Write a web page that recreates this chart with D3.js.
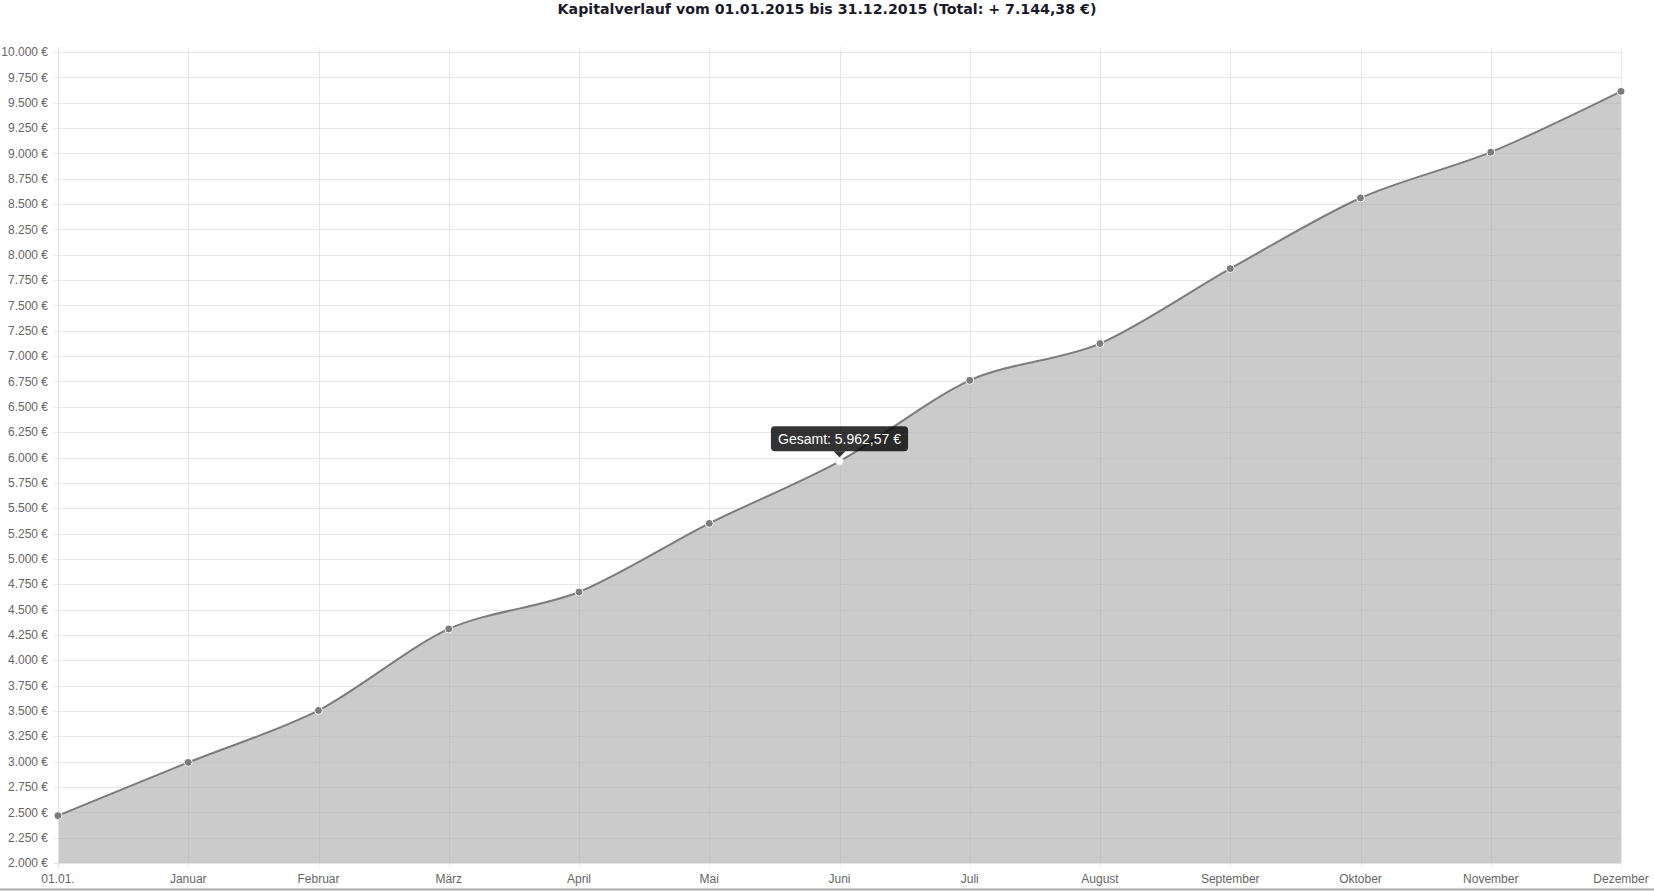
<!DOCTYPE html>
<html>
<head>
<meta charset="utf-8">
<script src="https://cdn.jsdelivr.net/npm/d3@7"></script>
<style>
    body { margin: 0; background: #fff; }
    svg { display: block; font-family: "Liberation Sans", Arial, sans-serif; }
</style>
</head>
<body>
<svg id="chart"></svg>
<script>

var labels = ["01.01.", "Januar", "Februar", "März", "April", "Mai", "Juni", "Juli", "August", "September", "Oktober", "November", "Dezember"];
var totals = [2467.22, 2992, 3505, 4309, 4673, 5350, 5962.57, 6761, 7124, 7863, 8560, 9012, 9611.60];
var yTicks = [2000, 2250, 2500, 2750, 3000, 3250, 3500, 3750, 4000, 4250, 4500, 4750, 5000, 5250, 5500, 5750, 6000, 6250, 6500, 6750, 7000, 7250, 7500, 7750, 8000, 8250, 8500, 8750, 9000, 9250, 9500, 9750, 10000];
var hoverIndex = 6;

var width = 1654;
var height = 891;
var margin = {top: 52, right: 33, bottom: 28, left: 58};

var de = d3.formatLocale({decimal: ",", thousands: ".", grouping: [3], currency: ["", " €"]});
var fmtTick = de.format(",.0f");
var fmtVal = de.format(",.2f");

var svg = d3.select("#chart").attr("width", width).attr("height", height);

var x = d3.scalePoint().domain(labels).range([margin.left, width - margin.right]);
var y = d3.scaleLinear().domain([2000, 10000]).range([height - margin.bottom, margin.top]);

// title
svg.append("text")
    .attr("x", width / 2)
    .attr("y", 14)
    .attr("text-anchor", "middle")
    .style("font-family", "'DejaVu Sans', Verdana, sans-serif")
    .style("font-weight", "bold")
    .style("font-size", "14.2px")
    .style("fill", "#1a1a2a")
    .text("Kapitalverlauf vom 01.01.2015 bis 31.12.2015 (Total: + 7.144,38 €)");

// grid
var grid = svg.append("g");
grid.selectAll("line.h")
    .data(yTicks)
    .enter().append("line")
    .attr("x1", margin.left - 5)
    .attr("x2", width - margin.right)
    .attr("y1", function (d) { return Math.round(y(d)) + 0.5; })
    .attr("y2", function (d) { return Math.round(y(d)) + 0.5; })
    .style("stroke", "#f0f0f0")
    .style("stroke-width", 1);

grid.selectAll("line.v")
    .data(labels)
    .enter().append("line")
    .attr("x1", function (d) { return Math.round(x(d)) + 0.5; })
    .attr("x2", function (d) { return Math.round(x(d)) + 0.5; })
    .attr("y1", margin.top - 5)
    .attr("y2", height - margin.bottom + 5)
    .style("stroke", "#f0f0f0")
    .style("stroke-width", 1);

// area + line
var curve = d3.curveCardinal.tension(0.1);

var area = d3.area()
    .x(function (d, i) { return x(labels[i]); })
    .y0(y(2000))
    .y1(function (d) { return y(d); })
    .curve(curve);

var line = d3.line()
    .x(function (d, i) { return x(labels[i]); })
    .y(function (d) { return y(d); })
    .curve(curve);

svg.append("path")
    .datum(totals)
    .attr("d", area)
    .style("fill", "#cbcbcb");

// grid lines faintly over the fill
svg.append("g").selectAll("line")
    .data(yTicks)
    .enter().append("line")
    .attr("x1", margin.left)
    .attr("x2", width - margin.right)
    .attr("y1", function (d) { return Math.round(y(d)) + 0.5; })
    .attr("y2", function (d) { return Math.round(y(d)) + 0.5; })
    .style("stroke", "rgba(0,0,0,0.035)");
svg.append("g").selectAll("line")
    .data(labels)
    .enter().append("line")
    .attr("x1", function (d) { return Math.round(x(d)) + 0.5; })
    .attr("x2", function (d) { return Math.round(x(d)) + 0.5; })
    .attr("y1", margin.top)
    .attr("y2", height - margin.bottom)
    .style("stroke", "rgba(0,0,0,0.035)");

// axis lines
svg.append("line")
    .attr("x1", margin.left + 0.5).attr("x2", margin.left + 0.5)
    .attr("y1", margin.top - 5).attr("y2", height - margin.bottom + 5)
    .style("stroke", "#e2e2e2");
svg.append("line")
    .attr("x1", margin.left - 5).attr("x2", width - margin.right)
    .attr("y1", y(2000) + 0.5).attr("y2", y(2000) + 0.5)
    .style("stroke", "#e2e2e2");

svg.append("path")
    .datum(totals)
    .attr("d", line)
    .style("fill", "none")
    .style("stroke", "#7c7c7c")
    .style("stroke-width", 2);

// points
svg.append("g").selectAll("circle")
    .data(totals)
    .enter().append("circle")
    .attr("cx", function (d, i) { return x(labels[i]); })
    .attr("cy", function (d) { return y(d); })
    .attr("r", 4)
    .style("fill", function (d, i) { return i === hoverIndex ? "#fff" : "#7c7c7c"; })
    .style("stroke", function (d, i) { return i === hoverIndex ? "#dcdcdc" : "#fff"; })
    .style("stroke-width", 1);

// y labels
svg.append("g").selectAll("text")
    .data(yTicks)
    .enter().append("text")
    .attr("x", margin.left - 10)
    .attr("y", function (d) { return y(d); })
    .attr("dy", "0.35em")
    .attr("text-anchor", "end")
    .style("font-size", "12px")
    .style("fill", "#666")
    .text(function (d) { return fmtTick(d) + " €"; });

// x labels
svg.append("g").selectAll("text")
    .data(labels)
    .enter().append("text")
    .attr("x", function (d) { return x(d); })
    .attr("y", height - margin.bottom + 16)
    .attr("dy", "0.35em")
    .attr("text-anchor", "middle")
    .style("font-size", "12px")
    .style("fill", "#666")
    .text(function (d) { return d; });

// bottom border
svg.append("line")
    .attr("x1", 0).attr("x2", width)
    .attr("y1", height - 1.5).attr("y2", height - 1.5)
    .style("stroke", "#a8a8a8")
    .style("stroke-width", 2);

// tooltip
var tx = x(labels[hoverIndex]);
var ty = y(totals[hoverIndex]);
var tip = svg.append("g");
var tipText = tip.append("text")
    .attr("x", tx)
    .attr("text-anchor", "middle")
    .style("font-size", "14px")
    .style("fill", "#fff")
    .text("Gesamt: " + fmtVal(totals[hoverIndex]) + " €");
var bb = tipText.node().getBBox();
var tipW = bb.width + 14;
var tipH = 25;
var tipTop = ty - 10 - tipH;
tip.insert("rect", "text")
    .attr("x", tx - tipW / 2)
    .attr("y", tipTop)
    .attr("width", tipW)
    .attr("height", tipH)
    .attr("rx", 4)
    .style("fill", "rgba(0,0,0,0.8)");
tip.insert("path", "text")
    .attr("d", "M" + (tx - 6) + "," + (tipTop + tipH) + "L" + tx + "," + (tipTop + tipH + 6) + "L" + (tx + 6) + "," + (tipTop + tipH) + "Z")
    .style("fill", "rgba(0,0,0,0.8)");
tipText.attr("y", tipTop + tipH / 2).attr("dy", "0.35em");

</script>
</body>
</html>
